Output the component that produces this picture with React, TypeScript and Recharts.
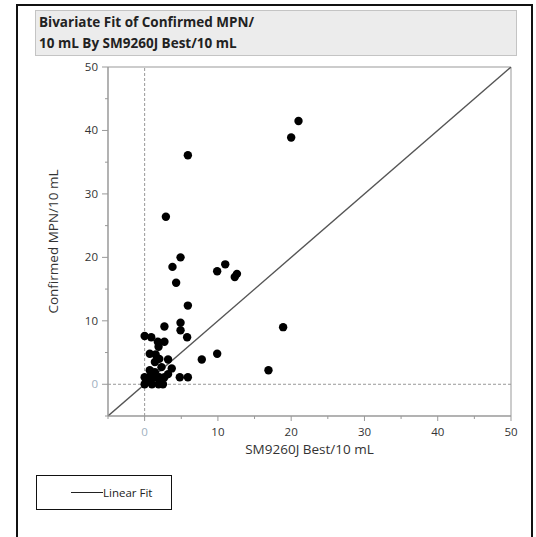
import { ScatterChart, Scatter, XAxis, YAxis, ReferenceLine, ReferenceArea, Legend } from "recharts"

// SM9260J Best/10 mL
const xBest = [
  21.0, 20.0, 5.9, 2.9, 4.9, 3.8, 4.3, 11.0, 9.9, 12.6, 12.3, 5.9, 18.9, 16.9, 7.8, 9.9,
  2.7, 4.9, 4.9, 5.8, 0.0, 0.9, 1.8, 2.7, 1.9, 0.7, 1.5, 2.0, 3.2, 1.4, 2.3, 3.7,
  0.7, 1.4, 0.0, 0.7, 1.4, 2.0, 2.7, 4.8, 5.9, 0.0, 1.0, 1.9, 2.5, 3.2, 0.5,
]
// Confirmed MPN/10 mL
const yMpn = [
  41.5, 38.9, 36.1, 26.4, 20.0, 18.5, 16.0, 18.9, 17.8, 17.4, 16.9, 12.4, 9.0, 2.2, 3.9, 4.8,
  9.1, 9.7, 8.5, 7.4, 7.6, 7.4, 6.7, 6.7, 5.9, 4.8, 4.7, 4.0, 3.9, 3.5, 2.7, 2.5,
  2.2, 1.9, 1.1, 1.1, 1.1, 1.1, 1.1, 1.1, 1.1, 0.0, 0.0, 0.0, 0.0, 1.6, 0.5,
]
const axisTicks = [-5, 0, 5, 10, 15, 20, 25, 30, 35, 40, 45, 50]
const axisDomain = [-5, 50]
const fitSlope = 1
const fitIntercept = 0

const points = xBest.map((x, i) => ({ x, y: yMpn[i] }))
const fitEnds = axisDomain.map((x) => ({ x, y: fitIntercept + fitSlope * x }))

const font = "'Open Sans', 'DejaVu Sans', sans-serif"

function labelColor(v: number) {
  return v === 0 ? "#9fb0c0" : "#333"
}

function YTick({ x, y, payload }: any) {
  const v = payload.value
  const major = v % 10 === 0
  return (
    <g>
      <line x1={x - (major ? 6 : 3)} x2={x} y1={y} y2={y} stroke="#999" />
      {major && v >= 0 && (
        <text x={x - 10} y={y + 4} textAnchor="end" fontSize={11.5} fill={labelColor(v)} fontFamily={font}>
          {v}
        </text>
      )}
    </g>
  )
}

function XTick({ x, y, payload }: any) {
  const v = payload.value
  const major = v % 10 === 0
  return (
    <g>
      <line x1={x} x2={x} y1={y} y2={y + (major ? 5 : 3)} stroke="#999" />
      {major && v >= 0 && (
        <text x={x} y={y + 20} textAnchor="middle" fontSize={11.5} fill={labelColor(v)} fontFamily={font}>
          {v}
        </text>
      )}
    </g>
  )
}

function FitLegend() {
  return (
    <div
      style={{
        width: 136,
        height: 35,
        border: "1.5px solid #111",
        display: "flex",
        alignItems: "center",
        fontFamily: font,
        fontSize: 11.5,
        color: "#222",
        boxSizing: "border-box",
      }}
    >
      <span style={{ display: "inline-block", width: 32, borderTop: "1px solid #222", marginLeft: 34 }} />
      <span>Linear Fit</span>
    </div>
  )
}

export default function App() {
  return (
    <div style={{ position: "absolute", left: 0, top: 0, width: 536, height: 537, background: "#fff", overflow: "hidden" }}>
      <div
        style={{
          position: "absolute",
          left: 16,
          top: 4,
          width: 517,
          height: 560,
          border: "2px solid #111",
          boxSizing: "border-box",
        }}
      />
      <div
        style={{
          position: "absolute",
          left: 35,
          top: 10,
          width: 482,
          height: 46,
          background: "#ececec",
          border: "1px solid #c4c4c4",
          boxSizing: "border-box",
          padding: "1px 0 0 3px",
          fontFamily: font,
          fontWeight: 700,
          fontSize: 13.5,
          lineHeight: "21px",
          color: "#222",
        }}
      >
        Bivariate Fit of Confirmed MPN/
        <br />
        10 mL By SM9260J Best/10 mL
      </div>
      <div style={{ position: "absolute", left: 0, top: 0 }}>
        <ScatterChart width={536} height={537} margin={{ top: 67, right: 25, left: 48, bottom: 91 }}>
          <XAxis
            type="number"
            dataKey="x"
            domain={axisDomain}
            ticks={axisTicks}
            allowDataOverflow
            height={30}
            tickSize={0}
            tickMargin={0}
            tick={<XTick />}
            stroke="#999"
            label={{ value: "SM9260J Best/10 mL", position: "bottom", offset: -2, fill: "#333", fontSize: 13.5, fontFamily: font }}
          />
          <YAxis
            type="number"
            dataKey="y"
            domain={axisDomain}
            ticks={axisTicks}
            allowDataOverflow
            width={60}
            tickSize={0}
            tickMargin={0}
            tick={<YTick />}
            stroke="#999"
            label={{
              value: "Confirmed MPN/10 mL",
              angle: -90,
              position: "insideLeft",
              offset: 5,
              fill: "#333",
              fontSize: 13.5,
              fontFamily: font,
              style: { textAnchor: "middle" },
            }}
          />
          <ReferenceArea x1={-5} x2={50} y1={-5} y2={50} fill="none" stroke="#999" ifOverflow="visible" />
          <ReferenceLine x={0} stroke="#999" strokeDasharray="3 2" />
          <ReferenceLine y={0} stroke="#999" strokeDasharray="3 2" />
          <ReferenceLine segment={fitEnds} stroke="#555" strokeWidth={1.4} ifOverflow="hidden" />
          <Scatter data={points} fill="#000" isAnimationActive={false} shape={(p: any) => <circle cx={p.cx} cy={p.cy} r={4.2} fill="#000" />} />
          <Legend
            layout="vertical"
            align="center"
            verticalAlign="middle"
            wrapperStyle={{ position: "absolute", left: 36, top: 475, width: 136, height: 35 }}
            content={() => <FitLegend />}
          />
        </ScatterChart>
      </div>
    </div>
  )
}
